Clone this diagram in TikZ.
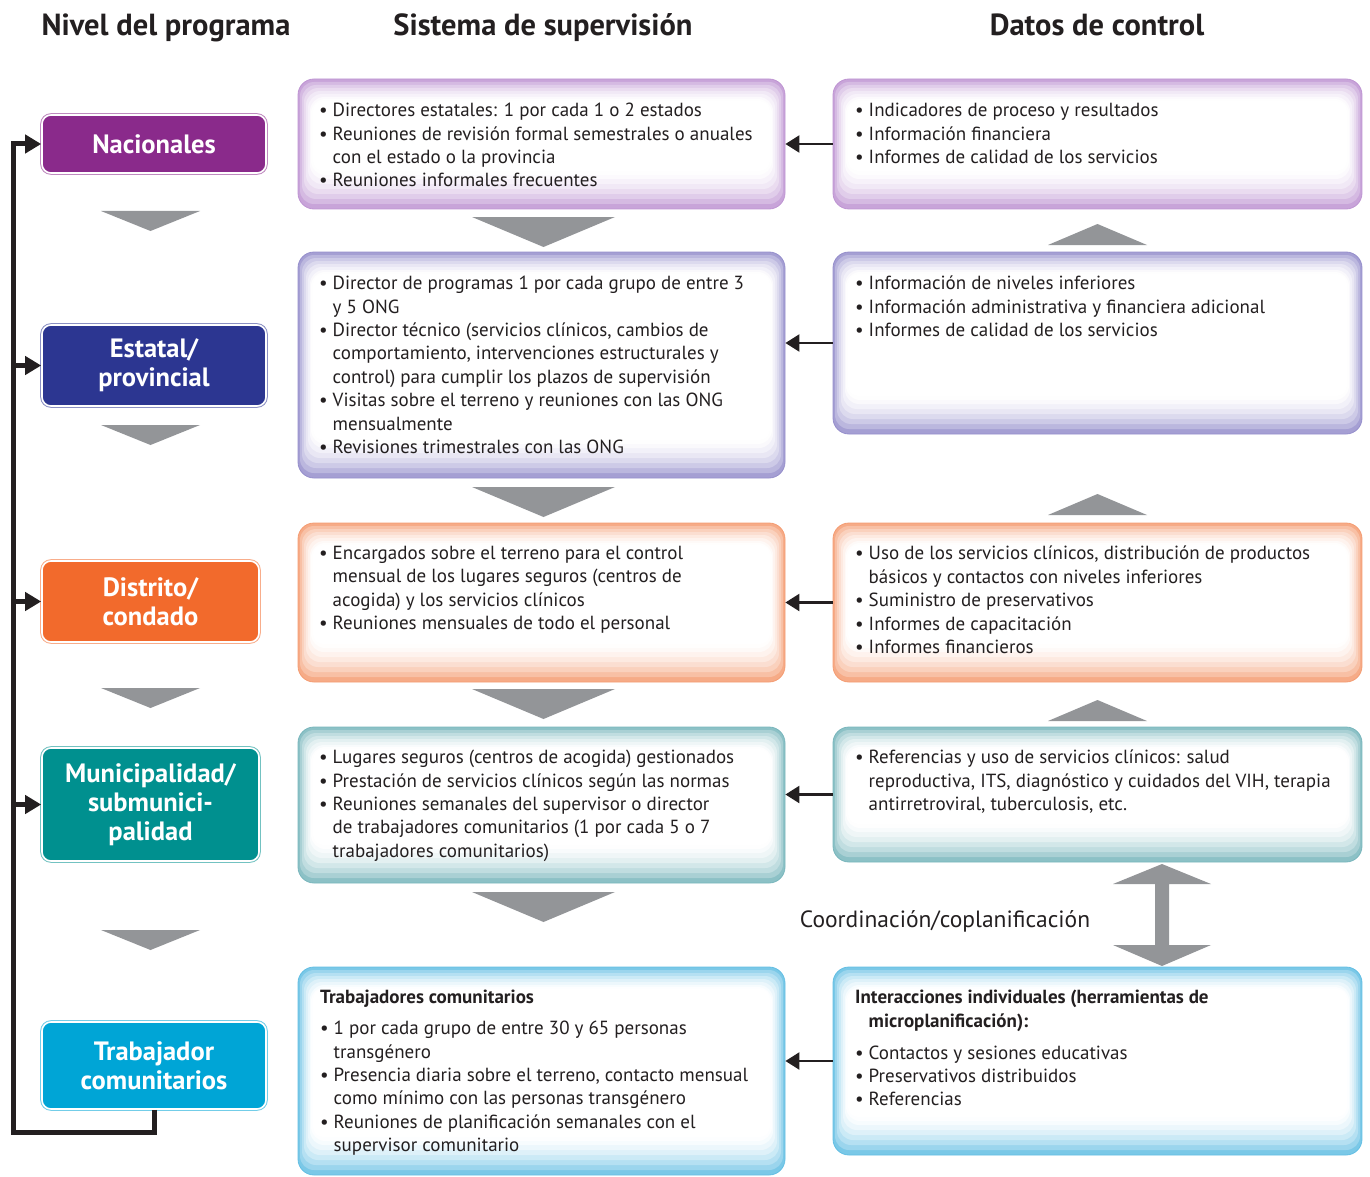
\documentclass[tikz,border=0pt]{standalone}
\usepackage{fontspec}
\setmainfont{PT Sans}
\usetikzlibrary{arrows.meta,calc}

% level colours
\definecolor{cnac}{HTML}{8A2A8B}
\definecolor{cest}{HTML}{2C3691}
\definecolor{cdis}{HTML}{F26A2C}
\definecolor{cmun}{HTML}{00908F}
\definecolor{ctra}{HTML}{00A5D6}
% glow colours of the content boxes
\definecolor{gpur}{HTML}{BE94D2}
\definecolor{glav}{HTML}{958ECB}
\definecolor{gora}{HTML}{F49C72}
\definecolor{gtea}{HTML}{78B6BC}
\definecolor{gblu}{HTML}{62BEE3}
\definecolor{arrgray}{HTML}{939598}
\definecolor{ink}{HTML}{231F20}

\newcommand\itm{\textbullet\hspace{0.26em}}
\newcommand\cnt{\phantom{\textbullet}\hspace{0.26em}}

\tikzset{
  hdr/.style={font=\bfseries\fontsize{30.5}{33}\selectfont, text=ink, inner sep=0pt, anchor=base},
  level/.style={rectangle, rounded corners=9pt, fill=#1, draw=white, line width=1.6pt,
    preaction={draw=#1!55, line width=3.6pt}, text=white, align=center, inner sep=0pt,
    font=\bfseries\fontsize{26.5}{29}\selectfont},
  gbox/.style={rectangle, rounded corners=16pt, draw=#1, line width=0.8pt, inner sep=0pt,
    path picture={
      \foreach \pc/\sd/\tp/\bt in {85/0/0/0, 64/2/3/5, 47/4/6/10, 33/6/9/15, 21/8/12/20, 12/10/15/25, 5/12/18/30, 1/13/20/34} {
        \fill[#1!\pc!white, rounded corners=14pt]
          ($(path picture bounding box.south west)+(\sd pt,\bt pt)$) rectangle
          ($(path picture bounding box.north east)+(-\sd pt,-\tp pt)$);
      }
      \fill[white, rounded corners=10pt]
        ($(path picture bounding box.south west)+(15pt,38pt)$) rectangle
        ($(path picture bounding box.north east)+(-15pt,-22pt)$);
    }},
  body/.style={font=\fontsize{19}{23.4}\selectfont, text=ink, align=left, inner sep=0pt, anchor=north west},
  darr/.style={line width=2.4pt, draw=ink, -{Triangle[length=14pt,width=17pt]}},
  brk/.style={line width=5pt, draw=ink, line join=miter, -{Triangle[length=16pt,width=18pt]}},
  tri/.style={fill=arrgray}
}

\begin{document}
\begin{tikzpicture}[x=1pt,y=-1pt]
\useasboundingbox (0,0) rectangle (1370,1177);

% column headings
\node[hdr] (h1) at (166,36) {Nivel del programa};
\node[hdr] (h2) at (543,36) {Sistema de supervisión};
\node[hdr] (h3) at (1097,36) {Datos de control};

% programme levels
\node[level=cnac, minimum width=224pt, minimum height=58pt] (l1) at (154,144) {Nacionales};
\node[level=cest, minimum width=224pt, minimum height=81pt] (l2) at (154,365.5) {Estatal/\\provincial};
\node[level=cdis, minimum width=217pt, minimum height=81pt] (l3) at (150.5,601.5) {Distrito/\\condado};
\node[level=cmun, minimum width=217pt, minimum height=113pt] (l4) at (150.5,804.5) {Municipalidad/\\submunici-\\palidad};
\node[level=ctra, minimum width=224pt, minimum height=87pt] (l5) at (154,1065.5) {Trabajador\\comunitarios};

% level-to-level triangles
\foreach \y in {211,425,688,930}
  \fill[tri] (101,\y) -- (200,\y) -- (150.5,\y+20) -- cycle;

% feedback bracket
\coordinate (sp) at (13,1132);
\draw[brk] (l5.south) -- (l5.south |- sp) -- (sp) -- (sp |- l1.west) -- (l1.west);
\draw[brk] (sp |- l2.west) -- (l2.west);
\draw[brk] (sp |- l3.west) -- (l3.west);
\draw[brk] (sp |- l4.west) -- (l4.west);

% supervision system boxes
\node[gbox=gpur, minimum width=487pt, minimum height=130pt] (m1) at (541.5,144) {};
\node[gbox=glav, minimum width=487pt, minimum height=226pt] (m2) at (541.5,365) {};
\node[gbox=gora, minimum width=487pt, minimum height=159pt] (m3) at (541.5,602.5) {};
\node[gbox=gtea, minimum width=487pt, minimum height=156pt] (m4) at (541.5,805) {};
\node[gbox=gblu, minimum width=487pt, minimum height=208pt] (m5) at (541.5,1071) {};

\node[body] (m1t) at (319,103) {\itm Directores estatales: 1 por cada 1 o 2 estados\\
\itm Reuniones de revisión formal semestrales o anuales\\
\cnt con el estado o la provincia\\
\itm Reuniones  informales frecuentes};

\node[body] (m2t) at (319,276) {\itm Director de programas 1 por cada grupo de entre 3\\
\cnt y 5 ONG\\
\itm Director técnico (servicios clínicos, cambios de\\
\cnt comportamiento, intervenciones estructurales y\\
\cnt control) para cumplir los plazos de supervisión\\
\itm Visitas sobre el terreno y reuniones con las ONG\\
\cnt mensualmente\\
\itm Revisiones trimestrales con las ONG};

\node[body] (m3t) at (319,546) {\itm Encargados sobre el terreno para el control\\
\cnt mensual de los lugares seguros (centros de\\
\cnt acogida) y los servicios clínicos\\
\itm Reuniones mensuales de todo el personal};

\node[body] (m4t) at (319,750) {\itm Lugares seguros (centros de acogida) gestionados\\
\itm Prestación de servicios clínicos según las normas\\
\itm Reuniones semanales del supervisor o director\\
\cnt de trabajadores comunitarios (1 por cada 5 o 7\\
\cnt trabajadores comunitarios)};

\node[body] (m5t) at (320,990) {\textbf{Trabajadores  comunitarios}\\[7.6pt]
\itm 1 por cada grupo de entre 30 y 65 personas\\
\cnt transgénero\\
\itm Presencia diaria sobre el terreno, contacto mensual\\
\cnt como mínimo con las personas transgénero\\
\itm Reuniones de planificación semanales con el\\
\cnt supervisor comunitario};

% supervision triangles
\foreach \y in {217,487,689,892}
  \fill[tri] (472,\y) -- (615,\y) -- (543.5,\y+30) -- cycle;

% control data boxes
\node[gbox=gpur, minimum width=529pt, minimum height=130pt] (r1) at (1097.5,144) {};
\node[gbox=glav, minimum width=529pt, minimum height=182pt] (r2) at (1097.5,343) {};
\node[gbox=gora, minimum width=529pt, minimum height=159pt] (r3) at (1097.5,602.5) {};
\node[gbox=gtea, minimum width=529pt, minimum height=135pt] (r4) at (1097.5,794.5) {};
\node[gbox=gblu, minimum width=529pt, minimum height=188pt] (r5) at (1097.5,1061) {};

\node[body] (r1t) at (855,103) {\itm Indicadores de proceso y resultados\\
\itm Información financiera\\
\itm Informes de calidad de los servicios};

\node[body] (r2t) at (855,276) {\itm Información de niveles inferiores\\
\itm Información administrativa y financiera adicional\\
\itm Informes de calidad de los servicios};

\node[body] (r3t) at (855,546) {\itm Uso de los servicios clínicos, distribución de productos\\
\cnt básicos y contactos con niveles inferiores\\
\itm Suministro de preservativos\\
\itm Informes de capacitación\\
\itm Informes financieros};

\node[body] (r4t) at (855,750) {\itm Referencias y uso de servicios clínicos: salud\\
\cnt reproductiva, ITS, diagnóstico y cuidados del VIH, terapia\\
\cnt antirretroviral, tuberculosis, etc.};

\node[body] (r5t) at (855,990) {\textbf{Interacciones individuales (herramientas de}\\
\cnt\textbf{microplanificación):}\\[8.6pt]
\itm Contactos y sesiones educativas\\
\itm Preservativos distribuidos\\
\itm Referencias};

% upward triangles between control data boxes
\foreach \y in {224,494,700}
  \fill[tri] (1048,\y+21) -- (1147,\y+21) -- (1097.5,\y) -- cycle;

% data flows into the supervision system
\draw[darr] (r1.west) -- (r1.west -| m1.east);
\draw[darr] (r2.west) -- (r2.west -| m2.east);
\draw[darr] (r3.west) -- (r3.west -| m3.east);
\draw[darr] (r4.west) -- (r4.west -| m4.east);
\draw[darr] (r5.west) -- (r5.west -| m5.east);

% coordination double arrow
\fill[tri] (1162,864) -- (1211,884) -- (1169,884) -- (1169,945) -- (1211,945)
  -- (1162,966) -- (1113,945) -- (1155,945) -- (1155,884) -- (1113,884) -- cycle;
\node[font=\fontsize{23.5}{26}\selectfont, text=ink, inner sep=0pt] (coord) at (945,921) {Coordinación/coplanificación};
\end{tikzpicture}
\end{document}
